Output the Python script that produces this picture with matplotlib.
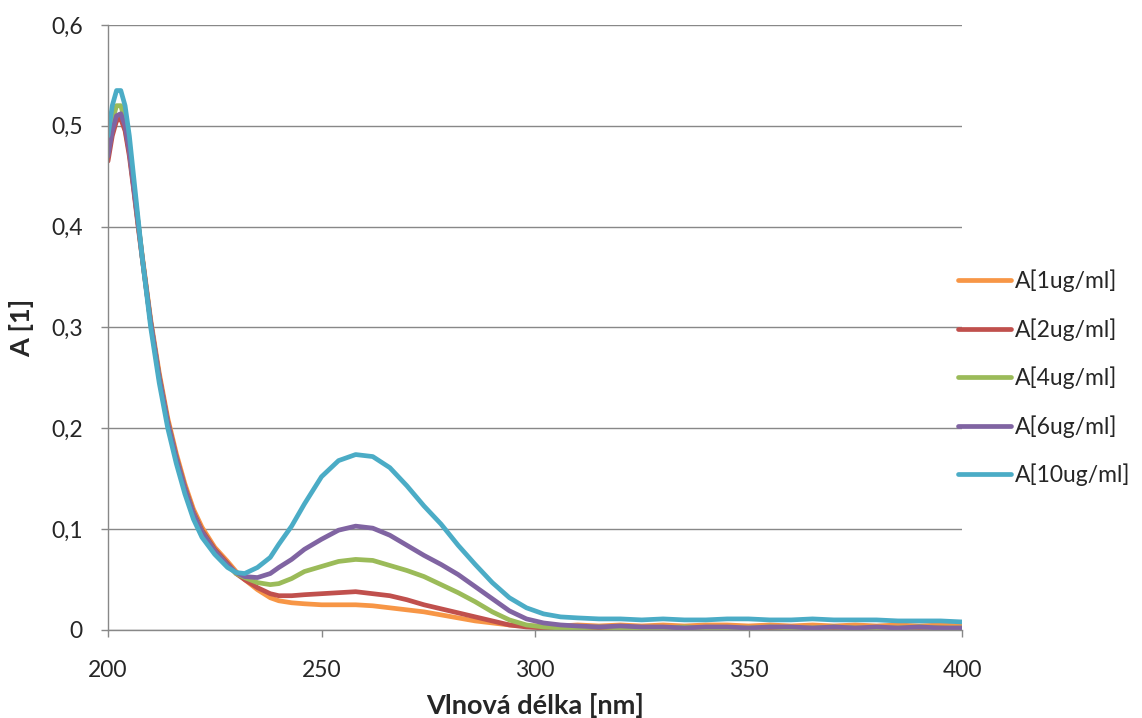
import matplotlib
matplotlib.use("Agg")
import matplotlib.pyplot as plt
from matplotlib.ticker import FuncFormatter

plt.rcParams['font.family'] = ['Lato', 'DejaVu Sans']

wavelength = [200, 201, 202, 203, 204, 205, 206, 207, 208, 210, 212, 214, 216, 218, 220,
              222, 225, 228, 230, 232, 235, 238, 240, 243, 246, 250, 254, 258, 262, 266,
              270, 274, 278, 282, 286, 290, 294, 298, 302, 306, 310, 315, 320, 325, 330,
              335, 340, 345, 350, 355, 360, 365, 370, 375, 380, 385, 390, 395, 400]

a_1 = [0.470, 0.495, 0.507, 0.508, 0.497, 0.473, 0.440, 0.405, 0.372, 0.308, 0.255, 0.210,
       0.175, 0.145, 0.120, 0.102, 0.082, 0.068, 0.058, 0.050, 0.040, 0.032, 0.029, 0.027,
       0.026, 0.025, 0.025, 0.025, 0.024, 0.022, 0.020, 0.018, 0.015, 0.012, 0.009, 0.007,
       0.005, 0.004, 0.004, 0.004, 0.005, 0.004, 0.005, 0.004, 0.005, 0.004, 0.005, 0.005,
       0.004, 0.005, 0.004, 0.005, 0.004, 0.005, 0.004, 0.005, 0.004, 0.005, 0.004]

a_2 = [0.465, 0.490, 0.505, 0.507, 0.495, 0.470, 0.437, 0.402, 0.369, 0.305, 0.252, 0.207,
       0.172, 0.142, 0.117, 0.099, 0.080, 0.066, 0.056, 0.050, 0.042, 0.036, 0.034, 0.034,
       0.035, 0.036, 0.037, 0.038, 0.036, 0.034, 0.030, 0.025, 0.021, 0.017, 0.013, 0.009,
       0.005, 0.003, 0.002, 0.002, 0.001, 0.002, 0.001, 0.001, 0.002, 0.001, 0.001, 0.002,
       0.001, 0.001, 0.002, 0.001, 0.001, 0.001, 0.002, 0.001, 0.001, 0.002, 0.001]

a_4 = [0.475, 0.505, 0.520, 0.520, 0.505, 0.478, 0.442, 0.405, 0.370, 0.305, 0.250, 0.205,
       0.170, 0.140, 0.115, 0.097, 0.078, 0.064, 0.056, 0.052, 0.047, 0.045, 0.046, 0.051,
       0.058, 0.063, 0.068, 0.070, 0.069, 0.064, 0.059, 0.053, 0.045, 0.037, 0.028, 0.018,
       0.010, 0.005, 0.003, 0.002, 0.002, 0.003, 0.002, 0.002, 0.002, 0.003, 0.002, 0.002,
       0.002, 0.003, 0.002, 0.002, 0.003, 0.002, 0.002, 0.002, 0.003, 0.002, 0.002]

a_6 = [0.470, 0.495, 0.510, 0.512, 0.500, 0.475, 0.440, 0.405, 0.370, 0.305, 0.250, 0.205,
       0.170, 0.140, 0.115, 0.097, 0.078, 0.064, 0.057, 0.053, 0.052, 0.056, 0.062, 0.070,
       0.080, 0.090, 0.099, 0.103, 0.101, 0.094, 0.084, 0.074, 0.065, 0.055, 0.043, 0.031,
       0.019, 0.011, 0.007, 0.005, 0.004, 0.003, 0.004, 0.003, 0.003, 0.002, 0.003, 0.003,
       0.002, 0.003, 0.003, 0.002, 0.003, 0.002, 0.003, 0.002, 0.003, 0.002, 0.002]

a_10 = [0.490, 0.520, 0.535, 0.535, 0.520, 0.490, 0.450, 0.410, 0.370, 0.300, 0.245, 0.200,
        0.165, 0.135, 0.110, 0.092, 0.075, 0.062, 0.057, 0.056, 0.062, 0.072, 0.085, 0.103,
        0.125, 0.152, 0.168, 0.174, 0.172, 0.161, 0.143, 0.123, 0.105, 0.084, 0.065, 0.047,
        0.032, 0.022, 0.016, 0.013, 0.012, 0.011, 0.011, 0.010, 0.011, 0.010, 0.010, 0.011,
        0.011, 0.010, 0.010, 0.011, 0.010, 0.010, 0.010, 0.009, 0.009, 0.009, 0.008]

labels = ["A[1ug/ml]", "A[2ug/ml]", "A[4ug/ml]", "A[6ug/ml]", "A[10ug/ml]"]
colors = ["#F79646", "#C0504D", "#9BBB59", "#8064A2", "#4BACC6"]
series = [a_1, a_2, a_4, a_6, a_10]

x_ticks = [200, 250, 300, 350, 400]
y_ticks = [0, 0.1, 0.2, 0.3, 0.4, 0.5, 0.6]

FS = 16.5
FS_LAB = 19.5

fig = plt.figure(figsize=(11.42, 7.18), dpi=100)
ax = fig.add_axes([108 / 1142, 88 / 718, 854 / 1142, 605 / 718])

for vals, lab, col in zip(series, labels, colors):
    ax.plot(wavelength, vals, color=col, lw=3.4, label=lab,
            solid_capstyle='round', solid_joinstyle='round')

ax.set_xlim(200, 400)
ax.set_ylim(0, 0.6)
ax.set_xticks(x_ticks)
ax.set_yticks(y_ticks)
ax.yaxis.set_major_formatter(FuncFormatter(lambda v, p: ("%g" % round(v, 1)).replace('.', ',')))

ax.grid(axis='y', color='#888888', lw=1.0)
ax.set_axisbelow(True)
for s in ['top', 'right']:
    ax.spines[s].set_visible(False)
for s in ['left', 'bottom']:
    ax.spines[s].set_color('#888888')
    ax.spines[s].set_linewidth(1.0)
ax.tick_params(axis='both', colors='#888888', labelcolor='#262626', labelsize=FS,
               length=5, width=1.0, direction='out')
ax.tick_params(axis='x', pad=16.5)
ax.tick_params(axis='y', pad=13)

ax.set_xlabel("Vlnová délka [nm]", fontsize=FS_LAB, fontweight='bold', color='#262626')
ax.xaxis.set_label_coords(0.5, -(706 - 630) / 605)
ax.xaxis.label.set_va('center')
ax.set_ylabel("A [1]", fontsize=FS_LAB, fontweight='bold', color='#262626')
ax.yaxis.set_label_coords(-(108 - 22) / 854, 0.5)
ax.yaxis.label.set_va('center')

fig.legend(loc='center left', bbox_to_anchor=(958 / 1142, 1 - 378 / 718), frameon=False,
           fontsize=FS, handlelength=2.3, handletextpad=0.2, labelspacing=1.13,
           borderpad=0, borderaxespad=0, labelcolor='#262626')

fig.savefig("out.png", dpi=100)
